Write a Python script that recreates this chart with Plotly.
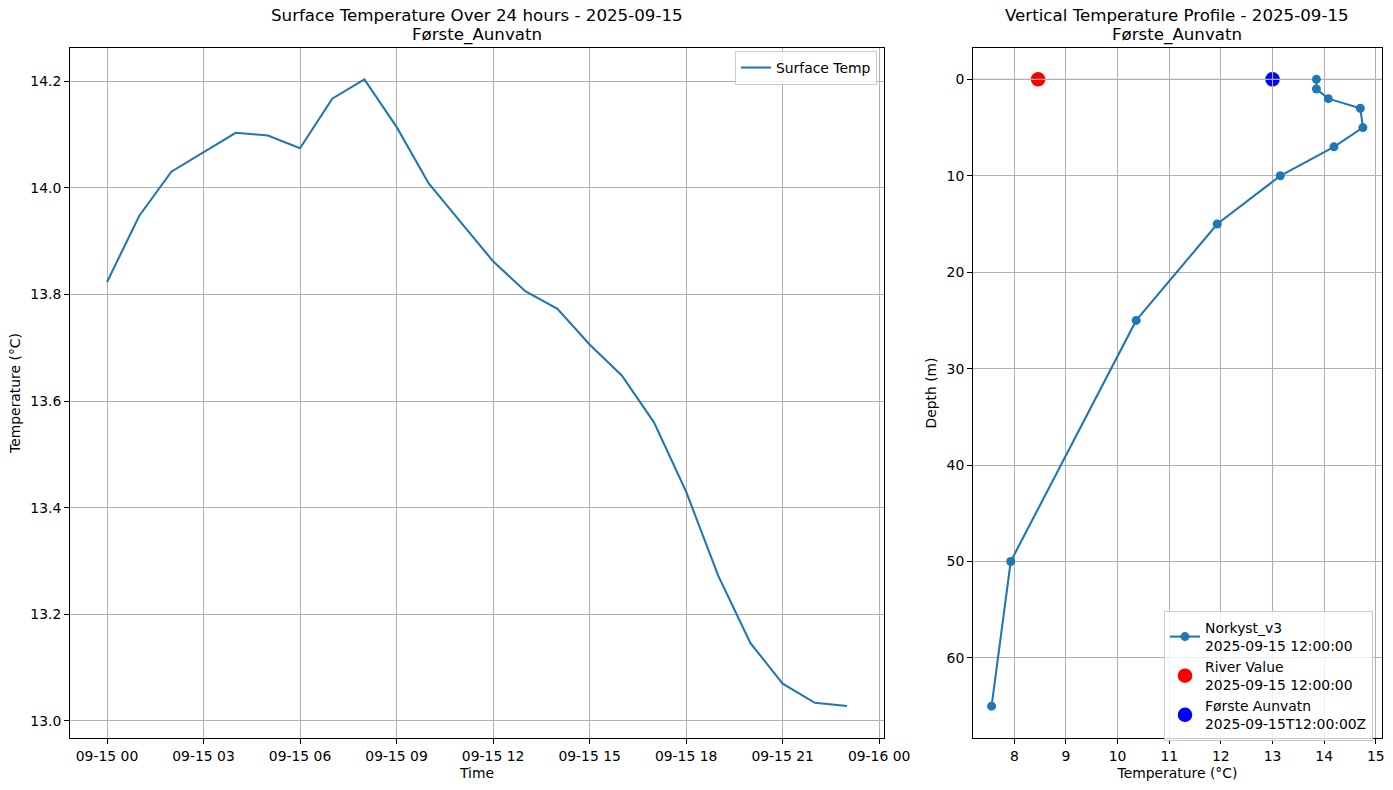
import plotly.graph_objects as go
from plotly.subplots import make_subplots

times = ["2025-09-15 %02d:00" % h for h in range(24)]
surface_temp = [13.823, 13.947, 14.030, 14.066, 14.103, 14.098, 14.074, 14.167, 14.203, 14.114, 14.008, 13.935, 13.862, 13.806, 13.773, 13.706, 13.648, 13.560, 13.430, 13.272, 13.146, 13.070, 13.034, 13.028]
profile_temp = [13.85, 13.85, 14.08, 14.70, 14.75, 14.19, 13.15, 11.93, 10.36, 7.93, 7.56]
profile_depth = [0, 1, 2, 3, 5, 7, 10, 15, 25, 50, 65]
river_temp = [8.46]
river_depth = [0]
obs_temp = [13.0]
obs_depth = [0]
time_ticks = ["2025-09-15 %02d:00" % h for h in range(0, 24, 3)] + ["2025-09-16 00:00"]
time_labels = ["09-15 %02d" % h for h in range(0, 24, 3)] + ["09-16 00"]
temp_ticks = [13.0, 13.2, 13.4, 13.6, 13.8, 14.0, 14.2]
temp_labels = ["13.0", "13.2", "13.4", "13.6", "13.8", "14.0", "14.2"]
profile_x_ticks = [8, 9, 10, 11, 12, 13, 14, 15]
depth_ticks = [0, 10, 20, 30, 40, 50, 60]
profile_x_range = [7.2, 15.12]
depth_range = [68.3, -3.25]

blue = "#1f77b4"
grid = "#b0b0b0"
FS = 13.9
W, H = 1393.0, 790.0
def px(x): return x / W
def py(y): return 1 - y / H

fig = make_subplots(rows=1, cols=2)
fig.add_trace(go.Scatter(x=times, y=surface_temp, mode="lines", name="Surface Temp",
                         line=dict(color=blue, width=2.08), legend="legend"), row=1, col=1)
# Scatter dots sit under the grid in the reference, the profile line above it
fig.add_trace(go.Scatter(x=river_temp, y=river_depth, mode="markers",
                         name="River Value<br>2025-09-15 12:00:00", legendrank=2,
                         marker=dict(color="red", size=14.5), legend="legend2"), row=1, col=2)
fig.add_trace(go.Scatter(x=obs_temp, y=obs_depth, mode="markers",
                         name="Første Aunvatn<br>2025-09-15T12:00:00Z", legendrank=3,
                         marker=dict(color="blue", size=14.5), legend="legend2"), row=1, col=2)
fig.add_trace(go.Scatter(x=profile_x_range, y=[depth_ticks[0]] * 2, mode="lines", showlegend=False,
                         line=dict(color=grid, width=1.1), hoverinfo="skip"), row=1, col=2)
fig.add_trace(go.Scatter(x=obs_temp * 2, y=depth_range, mode="lines", showlegend=False,
                         line=dict(color=grid, width=1.1), hoverinfo="skip"), row=1, col=2)
fig.add_trace(go.Scatter(x=profile_temp, y=profile_depth, mode="lines+markers",
                         name="Norkyst_v3<br>2025-09-15 12:00:00", legendrank=1,
                         line=dict(color=blue, width=2.08), marker=dict(color=blue, size=9),
                         legend="legend2"), row=1, col=2)

axis_common = dict(showline=True, mirror=True, linecolor="black", linewidth=1.1,
                   showgrid=True, gridcolor=grid, gridwidth=1.1, zeroline=False, automargin=False,
                   ticks="outside", ticklen=4.9, tickwidth=1.1, tickcolor="black",
                   tickfont=dict(size=FS, color="black"),
                   title_font=dict(size=FS, color="black"))

titles = [(476.5, 16, "Surface Temperature Over 24 hours - 2025-09-15"),
          (476.5, 35, "Første_Aunvatn"),
          (1176.5, 16, "Vertical Temperature Profile - 2025-09-15"),
          (1176.5, 35, "Første_Aunvatn")]

fig.update_layout(
    width=1393, height=790, autosize=False, paper_bgcolor="white", plot_bgcolor="white",
    font=dict(family="DejaVu Sans", size=FS, color="black"),
    margin=dict(l=0, r=0, t=0, b=0),
    annotations=[dict(text=t, x=px(x), y=py(y), xref="paper", yref="paper", showarrow=False,
                      xanchor="center", yanchor="middle", font=dict(size=16.67, color="black"))
                 for x, y, t in titles],
    legend=dict(x=px(877), y=py(51), xanchor="right", yanchor="top", bordercolor="#cccccc", borderwidth=1,
                bgcolor="rgba(255,255,255,0.8)", font=dict(size=FS)),
    legend2=dict(x=px(1373), y=py(611), xanchor="right", yanchor="top", bordercolor="#cccccc", borderwidth=1,
                 bgcolor="rgba(255,255,255,0.8)", font=dict(size=FS), tracegroupgap=0),
)
fig.update_xaxes(axis_common)
fig.update_yaxes(axis_common)
fig.update_xaxes(domain=[px(70), px(884)], row=1, col=1, title_text="Time", title_standoff=5,
                 range=["2025-09-14 22:51", "2025-09-16 00:09"], tickvals=time_ticks, ticktext=time_labels)
fig.update_yaxes(domain=[py(738), py(48)], row=1, col=1, title_text="Temperature (°C)", title_standoff=6,
                 range=[12.968, 14.262], tickvals=temp_ticks, ticktext=temp_labels)
fig.update_xaxes(domain=[px(973), px(1382)], row=1, col=2, title_text="Temperature (°C)", title_standoff=5,
                 range=profile_x_range, tickvals=profile_x_ticks)
fig.update_yaxes(domain=[py(738), py(48)], row=1, col=2, title_text="Depth (m)", title_standoff=6,
                 range=depth_range, tickvals=depth_ticks)

fig.write_html("out.html", config=dict(displayModeBar=False),
               post_script="document.body.style.margin='0';")
